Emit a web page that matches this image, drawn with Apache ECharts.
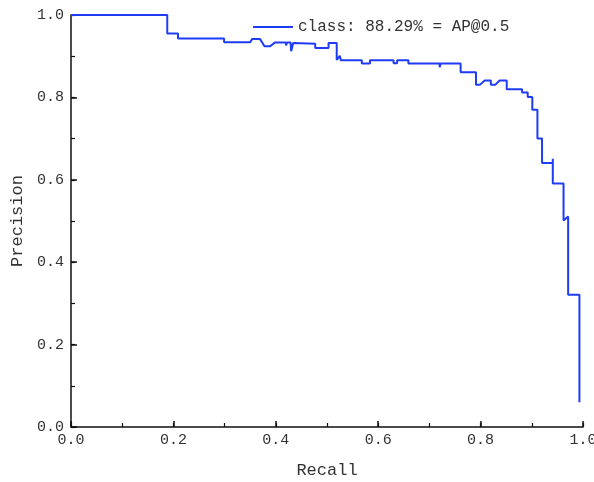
<!DOCTYPE html>
<html>
<head>
<meta charset="utf-8">
<script src="https://cdn.jsdelivr.net/npm/echarts@6/dist/echarts.min.js"></script>
<style>
  html, body { margin: 0; padding: 0; background: #fff; }
  #chart { width: 594px; height: 482px; }
</style>
</head>
<body>
<div id="chart"></div>
<script>
// PR curve (step shape, so some recalls repeat)
const recall = [
  0, 0.188, 0.188, 0.209, 0.209, 0.299, 0.299, 0.350, 0.354, 0.369,
  0.378, 0.389, 0.398, 0.411, 0.420, 0.420, 0.422, 0.429, 0.430, 0.434,
  0.477, 0.477, 0.503, 0.503, 0.519, 0.519, 0.525, 0.527, 0.568, 0.568,
  0.584, 0.584, 0.630, 0.630, 0.637, 0.637, 0.659, 0.659, 0.720, 0.720,
  0.722, 0.761, 0.761, 0.791, 0.791, 0.799, 0.808, 0.820, 0.820, 0.829,
  0.837, 0.851, 0.851, 0.881, 0.881, 0.892, 0.892, 0.901, 0.901, 0.911,
  0.911, 0.920, 0.920, 0.941, 0.941, 0.941, 0.962, 0.962, 0.971, 0.971,
  0.993, 0.993
]
const precision = [
  1.0, 1.0, 0.955, 0.955, 0.943, 0.943, 0.934, 0.934, 0.942, 0.942,
  0.924, 0.924, 0.933, 0.933, 0.933, 0.926, 0.933, 0.933, 0.912, 0.932,
  0.930, 0.920, 0.920, 0.932, 0.932, 0.891, 0.901, 0.890, 0.890, 0.882,
  0.882, 0.890, 0.890, 0.883, 0.883, 0.890, 0.890, 0.882, 0.882, 0.873,
  0.882, 0.882, 0.861, 0.861, 0.831, 0.831, 0.841, 0.841, 0.831, 0.831,
  0.841, 0.841, 0.820, 0.820, 0.812, 0.812, 0.801, 0.801, 0.770, 0.770,
  0.700, 0.700, 0.641, 0.641, 0.651, 0.591, 0.591, 0.501, 0.511, 0.321,
  0.321, 0.060
]
const seriesName = 'class: 88.29% = AP@0.5'

let font = 'Liberation Mono'
let chart = echarts.init(document.getElementById('chart'))

let points = recall.map((r, i) => [r, precision[i]])

// main axis: line, long ticks every 0.2, labels
let mainAxis = {
  type: 'value',
  min: 0,
  max: 1,
  interval: 0.2,
  nameLocation: 'middle',
  nameTextStyle: { fontFamily: font, fontSize: 17, color: '#333' },
  axisLine: { show: true, onZero: false, lineStyle: { color: '#111', width: 1.5 } },
  axisTick: { show: true, inside: true, length: 6, lineStyle: { color: '#111', width: 1.5 } },
  splitLine: { show: false },
  axisLabel: {
    fontFamily: font, fontSize: 15, color: '#333',
    formatter: v => v.toFixed(1)
  }
}
// second axis on top of it only for the short ticks every 0.1
let minorAxis = {
  type: 'value',
  min: 0,
  max: 1,
  interval: 0.1,
  axisLine: { show: false, onZero: false },
  axisTick: { show: true, inside: true, length: 4, lineStyle: { color: '#111', width: 1.2 } },
  axisLabel: { show: false },
  splitLine: { show: false }
}

let option = {
  animation: false,
  backgroundColor: '#fff',
  grid: { left: 71, right: 11, top: 15, bottom: 55, outerBoundsMode: 'none' },
  legend: {
    left: 248, top: 14,
    itemWidth: 40, itemHeight: 2,
    textStyle: { fontFamily: font, fontSize: 16, color: '#333' },
    data: [{ name: seriesName, icon: 'rect' }]
  },
  xAxis: [
    Object.assign({}, mainAxis, {
      name: 'Recall', nameGap: 35, position: 'bottom',
      axisLabel: Object.assign({}, mainAxis.axisLabel, { margin: 6 })
    }),
    Object.assign({}, minorAxis, { position: 'bottom' })
  ],
  yAxis: [
    Object.assign({}, mainAxis, {
      name: 'Precision', nameGap: 41, position: 'left',
      axisLabel: Object.assign({}, mainAxis.axisLabel, { margin: 7 })
    }),
    Object.assign({}, minorAxis, { position: 'left' })
  ],
  series: [{
    name: seriesName,
    type: 'line',
    data: points,
    symbol: 'none',
    lineStyle: { color: '#1f3cf5', width: 2 },
    itemStyle: { color: '#1f3cf5' }
  }]
}
chart.setOption(option)
</script>
</body>
</html>
